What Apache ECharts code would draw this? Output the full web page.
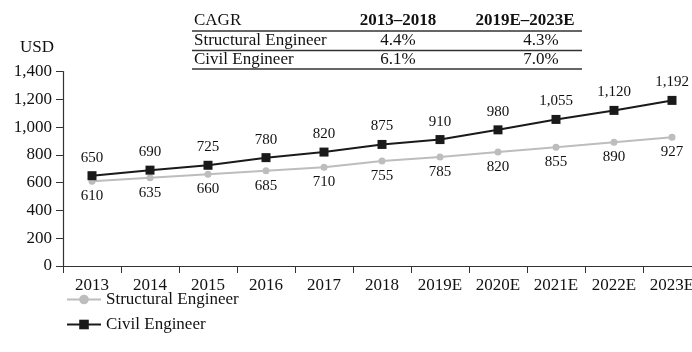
<!DOCTYPE html>
<html>
<head>
<meta charset="utf-8">
<script src="https://cdn.jsdelivr.net/npm/echarts@6/dist/echarts.min.js"></script>
<style>html,body{margin:0;padding:0;background:#fff;overflow:hidden;width:692px;height:352px}#c{width:701px;height:352px}</style>
</head>
<body>
<div id="c"></div>
<script>
var categories = ['2013','2014','2015','2016','2017','2018','2019E','2020E','2021E','2022E','2023E'];
var structural = [610, 635, 660, 685, 710, 755, 785, 820, 855, 890, 927];
var civil = [650, 690, 725, 780, 820, 875, 910, 980, 1055, 1120, 1192];
var tableHeader = ['CAGR', '2013–2018', '2019E–2023E'];
var tableRows = [
  ['Structural Engineer', '4.4%', '4.3%'],
  ['Civil Engineer', '6.1%', '7.0%']
];
var seriesNames = ['Structural Engineer', 'Civil Engineer'];

var FONT = 'Liberation Serif';
var chart = echarts.init(document.getElementById('c'), null, {renderer: 'canvas'});

function fmt(v) { return v.toLocaleString('en-US'); }

// table graphics
var tableLeft = 192, tableRight = 582;
var headerX = [194, 398, 525];
var valueX = [194, 398, 541];
var rowY = [21, 41, 60];
var lineY = [31, 50.5, 69];
var g = [];
var allRows = [tableHeader].concat(tableRows);
allRows.forEach(function (row, r) {
  row.forEach(function (txt, c) {
    g.push({
      type: 'text',
      x: (r === 0 ? headerX : valueX)[c], y: rowY[r],
      style: {
        text: txt,
        fill: '#111',
        font: (r === 0 && c > 0 ? 'bold ' : '') + '17px "' + FONT + '"',
        textAlign: c === 0 ? 'left' : 'center',
        textVerticalAlign: 'middle'
      }
    });
  });
});
lineY.forEach(function (y) {
  g.push({
    type: 'line',
    shape: {x1: tableLeft, y1: y, x2: tableRight, y2: y},
    style: {stroke: '#333', lineWidth: 1.3}
  });
});

var option = {
  animation: false,
  backgroundColor: '#fff',
  textStyle: {fontFamily: FONT},
  grid: {left: 63, right: 0, top: 71.5, height: 194.5, containLabel: false},
  legend: {
    orient: 'vertical',
    left: 61, top: 286,
    itemWidth: 34, itemHeight: 12, itemGap: 8,
    textStyle: {fontFamily: FONT, fontSize: 17, color: '#111'},
    data: seriesNames
  },
  xAxis: {
    type: 'category',
    data: categories,
    boundaryGap: true,
    axisLine: {lineStyle: {color: '#333', width: 1.2}},
    axisTick: {show: true, length: 7, inside: false, lineStyle: {color: '#333'}},
    axisLabel: {fontFamily: FONT, fontSize: 17, color: '#111', margin: 11, interval: 0}
  },
  yAxis: {
    type: 'value',
    min: 0, max: 1400, interval: 200,
    name: 'USD',
    nameLocation: 'end',
    nameGap: 15,
    nameTextStyle: {fontFamily: FONT, fontSize: 17, color: '#111', align: 'right', padding: [0, 9, 0, 0]},
    axisLine: {show: true, lineStyle: {color: '#333', width: 1.2}},
    axisTick: {show: true, length: 7, lineStyle: {color: '#333'}},
    splitLine: {show: false},
    axisLabel: {fontFamily: FONT, fontSize: 17, color: '#111', margin: 11, formatter: fmt}
  },
  series: [
    {
      name: seriesNames[0],
      type: 'line',
      data: structural,
      symbol: 'circle',
      symbolSize: 7,
      color: '#bdbdbd',
      lineStyle: {color: '#bdbdbd', width: 2},
      itemStyle: {color: '#bdbdbd'},
      label: {show: true, position: 'bottom', distance: 4, fontFamily: FONT, fontSize: 15, color: '#111', formatter: function (p) { return fmt(p.value); }}
    },
    {
      name: seriesNames[1],
      type: 'line',
      data: civil,
      symbol: 'rect',
      symbolSize: 9,
      color: '#1a1a1a',
      lineStyle: {color: '#1a1a1a', width: 2},
      itemStyle: {color: '#1a1a1a'},
      label: {show: true, position: 'top', distance: 6, fontFamily: FONT, fontSize: 15, color: '#111', formatter: function (p) { return fmt(p.value); }}
    }
  ],
  graphic: g
};
chart.setOption(option);
</script>
</body>
</html>
